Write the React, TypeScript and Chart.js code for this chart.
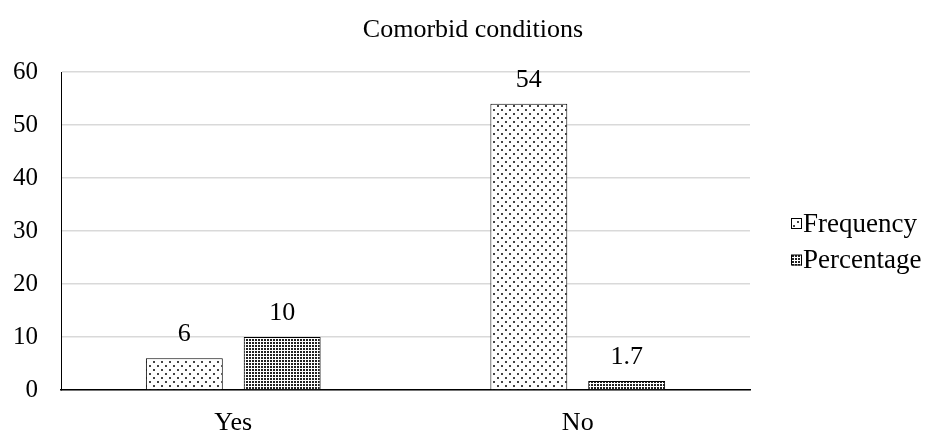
import React, { useEffect, useRef } from "react";
import { Chart, registerables } from "chart.js";

Chart.register(...registerables);

const categories = ["Yes", "No"];
const seriesNames = ["Frequency", "Percentage"];
const frequencyValues = [6, 54];
const percentageValues = [10, 1.7];
const yTicks = [0, 10, 20, 30, 40, 50, 60];
const titleText = "Comorbid conditions";

const FONT = "'Liberation Serif', 'Times New Roman', serif";

function makePattern(kind: "sparse" | "dense"): CanvasPattern | string {
  const c = document.createElement("canvas");
  const ctx = c.getContext("2d");
  if (!ctx) return "#fff";
  if (kind === "sparse") {
    c.width = 8;
    c.height = 8;
    ctx.fillStyle = "#fff";
    ctx.fillRect(0, 0, 8, 8);
    ctx.fillStyle = "#444";
    ctx.fillRect(1, 1, 2, 2);
    ctx.fillRect(5, 5, 2, 2);
  } else {
    c.width = 3;
    c.height = 3;
    ctx.fillStyle = "#fff";
    ctx.fillRect(0, 0, 3, 3);
    ctx.fillStyle = "#222";
    ctx.fillRect(0, 0, 2, 2);
  }
  return ctx.createPattern(c, "repeat") || "#fff";
}

export default function App() {
  const ref = useRef<HTMLCanvasElement | null>(null);

  useEffect(() => {
    document.body.style.margin = "0";
    const canvas = ref.current;
    if (!canvas) return;
    const sparse = makePattern("sparse");
    const dense = makePattern("dense");

    const labelPlugin = {
      id: "valueLabels",
      afterDatasetsDraw(chart: any) {
        const ctx = chart.ctx;
        ctx.save();
        ctx.font = `26px ${FONT}`;
        ctx.fillStyle = "#000";
        ctx.textAlign = "center";
        ctx.textBaseline = "alphabetic";
        chart.data.datasets.forEach((ds: any, i: number) => {
          const meta = chart.getDatasetMeta(i);
          meta.data.forEach((bar: any, j: number) => {
            ctx.fillText(String(ds.data[j]), bar.x, bar.y - 17);
          });
        });
        ctx.restore();
      },
    };

    const titlePlugin = {
      id: "customTitle",
      afterDraw(chart: any) {
        const ctx = chart.ctx;
        ctx.save();
        ctx.font = `26px ${FONT}`;
        ctx.fillStyle = "#000";
        ctx.textAlign = "center";
        ctx.textBaseline = "alphabetic";
        ctx.fillText(titleText, 473, 36.5);
        ctx.restore();
      },
    };

    const legendPlugin = {
      id: "customLegend",
      afterDraw(chart: any) {
        const ctx = chart.ctx;
        ctx.save();
        ctx.font = `27px ${FONT}`;
        ctx.textAlign = "left";
        ctx.textBaseline = "middle";
        chart.data.datasets.forEach((ds: any, i: number) => {
          const cy = 223.5 + i * 36.5;
          const bx = 791;
          ctx.fillStyle = ds.backgroundColor;
          ctx.fillRect(bx, cy - 5.5, 11, 11);
          ctx.strokeStyle = "#000";
          ctx.lineWidth = 1;
          ctx.strokeRect(bx + 0.5, cy - 5, 10, 10);
          ctx.fillStyle = "#000";
          ctx.fillText(ds.label, bx + 12, cy + 1);
        });
        ctx.restore();
      },
    };

    const chart = new Chart(canvas, {
      type: "bar",
      data: {
        labels: categories,
        datasets: [
          {
            label: seriesNames[0],
            data: frequencyValues,
            backgroundColor: sparse as any,
            borderColor: "#000",
            borderWidth: 1,
            barPercentage: 0.786,
            categoryPercentage: 0.568,
          },
          {
            label: seriesNames[1],
            data: percentageValues,
            backgroundColor: dense as any,
            borderColor: "#000",
            borderWidth: 1,
            barPercentage: 0.786,
            categoryPercentage: 0.568,
          },
        ],
      },
      options: {
        animation: false,
        responsive: false,
        maintainAspectRatio: false,
        layout: { padding: { left: 0, right: 180, top: 72, bottom: 0 } },
        plugins: {
          legend: { display: false },
          tooltip: { enabled: false },
          title: { display: false },
        },
        scales: {
          x: {
            grid: { display: false },
            border: { color: "#000", width: 1.5 },
            ticks: {
              color: "#000",
              font: { family: FONT, size: 26 },
              padding: 10,
            },
            afterFit(scale: any) {
              scale.height = 45;
            },
          },
          y: {
            min: 0,
            max: 60,
            afterBuildTicks(scale: any) {
              scale.ticks = yTicks.map((v) => ({ value: v }));
            },
            grid: { color: "#d9d9d9", lineWidth: 1.5, drawTicks: false },
            border: { color: "#000", width: 1 },
            ticks: {
              color: "#000",
              font: { family: FONT, size: 25 },
              padding: 23,
            },
            afterFit(scale: any) {
              scale.width = 61;
            },
          },
        },
      },
      plugins: [labelPlugin, titlePlugin, legendPlugin],
    });
    return () => chart.destroy();
  }, []);

  return (
    <div style={{ width: 930, height: 435 }}>
      <canvas ref={ref} width={930} height={435} style={{ display: "block" }} />
    </div>
  );
}
